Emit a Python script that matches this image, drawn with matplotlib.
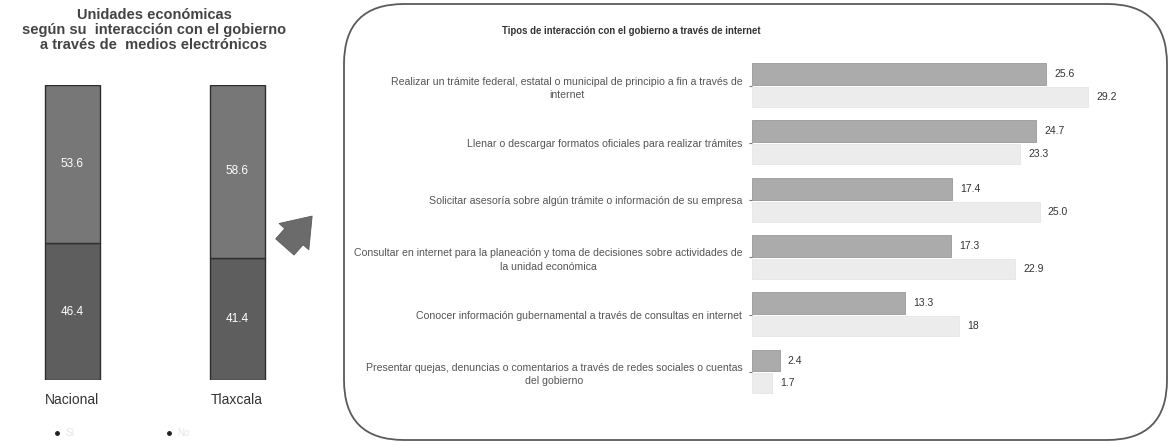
import matplotlib
matplotlib.use("Agg")
import matplotlib.pyplot as plt
from matplotlib.patches import FancyBboxPatch
from matplotlib.lines import Line2D
import numpy as np

plt.rcParams['font.family'] = ['Liberation Sans', 'DejaVu Sans']

# ---------------- data ----------------
regions = ["Nacional", "Tlaxcala"]
share_no = [46.4, 41.4]      # bottom segment
share_si = [53.6, 58.6]      # top segment
legend_labels = ["Sí", "No"]

left_title = "Unidades económicas\nsegún su  interacción con el gobierno\na través de  medios electrónicos"
right_title = "Tipos de interacción con el gobierno a través de internet"

interaction_types = [
    "Realizar un trámite federal, estatal o municipal de principio a fin a través de\ninternet",
    "Llenar o descargar formatos oficiales para realizar trámites",
    "Solicitar asesoría sobre algún trámite o información de su empresa",
    "Consultar en internet para la planeación y toma de decisiones sobre actividades de\nla unidad económica",
    "Conocer información gubernamental a través de consultas en internet",
    "Presentar quejas, denuncias o comentarios a través de redes sociales o cuentas\ndel gobierno",
]
nacional_vals = [25.6, 24.7, 17.4, 17.3, 13.3, 2.4]
tlaxcala_vals = [29.2, 23.3, 25.0, 22.9, 18, 1.7]
nacional_labels = ["25.6", "24.7", "17.4", "17.3", "13.3", "2.4"]
tlaxcala_labels = ["29.2", "23.3", "25.0", "22.9", "18", "1.7"]

W, H = 1174, 445
fig = plt.figure(figsize=(W / 100, H / 100), dpi=100)
fig.patch.set_facecolor("white")

def frac(x0, y_top, w, h):
    """pixel box (top-left origin) -> figure fraction rect"""
    return [x0 / W, (H - y_top - h) / H, w / W, h / H]

# ---------------- background overlay ----------------
bg = fig.add_axes([0, 0, 1, 1], zorder=-1)
bg.set_xlim(0, W)
bg.set_ylim(H, 0)
bg.axis("off")
box = FancyBboxPatch((344, 4), 823, 436,
                     boxstyle="round,pad=0,rounding_size=60",
                     facecolor="white", edgecolor="#5a5a5a", linewidth=1.3)
bg.add_patch(box)
bg.annotate("", xy=(314, 214), xytext=(283, 249),
            arrowprops=dict(arrowstyle="simple,head_width=1.3,head_length=0.9,tail_width=0.8",
                            facecolor="#6b6b6b", edgecolor="#5a5a5a", lw=0.6,
                            mutation_scale=22))

# ---------------- left stacked bars ----------------
axL = fig.add_axes(frac(0, 85, 330, 295))
axL.patch.set_alpha(0)
xpos = np.arange(len(regions))
bw = 55 / 165
bars_no = axL.bar(xpos, share_no, width=bw, color="#5e5e5e",
                  edgecolor="#2e2e2e", linewidth=1.0)
bars_si = axL.bar(xpos, share_si, width=bw, bottom=share_no, color="#777777",
                  edgecolor="#2e2e2e", linewidth=1.0)
axL.bar_label(bars_si, labels=[f"{v:.1f}" for v in share_si], label_type="center",
              color="white", fontsize=8.5)
axL.bar_label(bars_no, labels=[f"{v:.1f}" for v in share_no], label_type="center",
              color="white", fontsize=8.5)
axL.set_xlim(-72 / 165, 1 + (330 - 237) / 165)
axL.set_ylim(0, 100)
for s in axL.spines.values():
    s.set_visible(False)
axL.set_yticks([])
axL.set_xticks(xpos, regions)
axL.tick_params(axis="x", length=0, pad=9, labelsize=10, labelcolor="#333333")
fig.text(154 / W, 1 - 30 / H, left_title, ha="center", va="center",
         fontsize=10.5, fontweight="bold", color="#444444", linespacing=1.1)

handles = [Line2D([], [], marker="o", markersize=2.5, linestyle="none", color="#222222")
           for _ in legend_labels]
fig.legend(handles, legend_labels, loc="center left",
           bbox_to_anchor=(43 / W, 1 - 433 / H), ncol=2, frameon=False,
           fontsize=7, labelcolor="#e6e6e6", handletextpad=0.4,
           columnspacing=9.2, handlelength=1.0)

# ---------------- right horizontal bars ----------------
step = 57.3
top_px = 85.5 - step / 2
n = len(interaction_types)
axR = fig.add_axes(frac(752, top_px, 400, step * n))
axR.patch.set_alpha(0)
yy = np.arange(n)
off = 0.2
b1 = axR.barh(yy - off, nacional_vals, height=0.38, color="#ababab",
              edgecolor="#999999", linewidth=0.6)
b2 = axR.barh(yy + off, tlaxcala_vals, height=0.35, color="#ececec",
              edgecolor="#e6e6e6", linewidth=0.6)
axR.bar_label(b1, labels=nacional_labels, padding=6, fontsize=7.5, color="#333333")
axR.bar_label(b2, labels=tlaxcala_labels, padding=6, fontsize=7.5, color="#333333")
axR.set_xlim(0, 400 / 11.5)
axR.set_ylim(n - 0.5, -0.5)
for s in axR.spines.values():
    s.set_visible(False)
axR.set_xticks([])
axR.set_yticks(yy, interaction_types)
axR.tick_params(axis="y", length=2, width=0.8, color="#777777", pad=5,
                labelsize=7.6, labelcolor="#555555")
for lab in axR.get_yticklabels():
    lab.set_multialignment("center")
    lab.set_linespacing(1.4)
fig.text(631 / W, 1 - 31 / H, right_title, ha="center", va="center",
         fontsize=6.9, fontweight="bold", color="#333333")

fig.savefig("out.png", dpi=100, facecolor="white")
